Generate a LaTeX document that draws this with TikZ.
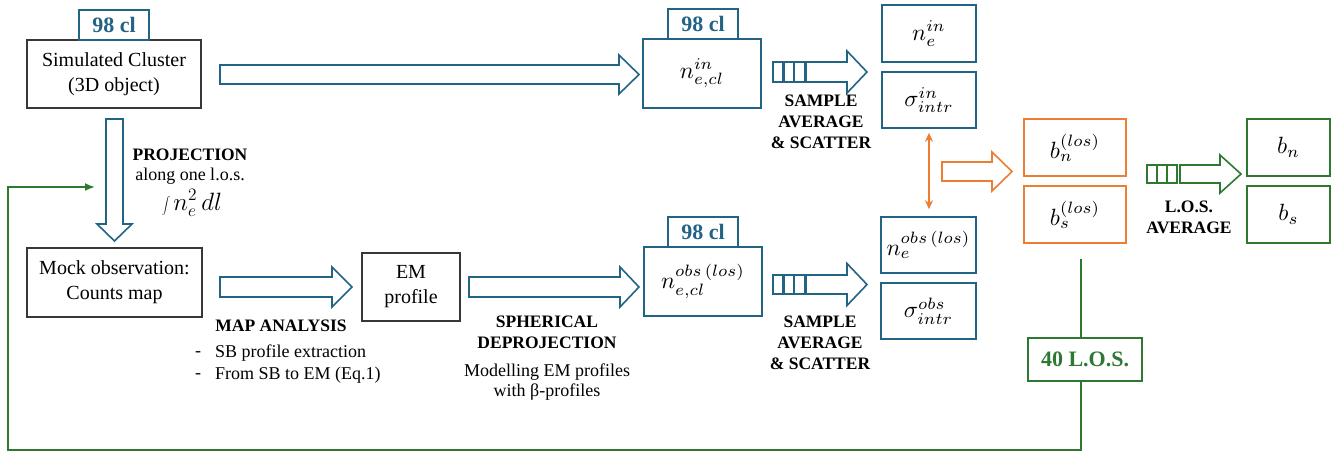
\documentclass[tikz,border=0pt]{standalone}
\usepackage{fontspec}
\setmainfont{Liberation Serif}
\usepackage{graphicx}
\usetikzlibrary{arrows.meta}
\definecolor{bluec}{RGB}{35,100,133}
\definecolor{orangec}{RGB}{237,125,49}
\definecolor{greenc}{RGB}{46,120,50}
\definecolor{grayc}{RGB}{55,55,55}
\newcommand\mth[1]{\scalebox{2.35}{$#1$}}
% right block arrow: x1, x2, yc, shaft half, head half, head length, colour
\newcommand\blkR[7]{\draw[#7,line width=1.6pt,fill=white,line join=miter]
  (#1,#3-#4) -- (#2-#6,#3-#4) -- (#2-#6,#3-#5) -- (#2,#3) -- (#2-#6,#3+#5)
  -- (#2-#6,#3+#4) -- (#1,#3+#4) -- cycle;}
% down block arrow: xc, y1, y2, shaft half, head half, head length, colour
\newcommand\blkD[7]{\draw[#7,line width=1.6pt,fill=white,line join=miter]
  (#1-#4,#2) -- (#1-#4,#3-#6) -- (#1-#5,#3-#6) -- (#1,#3) -- (#1+#5,#3-#6)
  -- (#1+#4,#3-#6) -- (#1+#4,#2) -- cycle;}
% three stripes: x start, yc, half height, stripe width, gap, colour
\newcommand\stripes[6]{\foreach \k in {0,1,2}{
  \draw[#6,line width=1.4pt] (#1+\k*#4+\k*#5,#2-#3) rectangle (#1+\k*#4+\k*#5+#4,#2+#3);}}
\tikzset{
  bbox/.style={draw=grayc,line width=1.3pt,fill=white,inner sep=0pt,align=center,
    font=\fontsize{20}{25}\selectfont},
  bluebox/.style={draw=bluec,line width=1.6pt,fill=white,inner sep=0pt,align=center},
  orbox/.style={draw=orangec,line width=1.6pt,fill=white,inner sep=0pt,align=center},
  grbox/.style={draw=greenc,line width=1.6pt,fill=white,inner sep=0pt,align=center},
  tabbox/.style={draw=bluec,line width=1.6pt,fill=white,inner sep=0pt,text=bluec,
    font=\fontsize{22}{26}\selectfont\bfseries,minimum width=70pt,minimum height=30pt},
  lbl/.style={inner sep=0pt,align=center,font=\fontsize{17.5}{21}\selectfont\bfseries},
  captxt/.style={inner sep=0pt,align=center,font=\fontsize{18}{20}\selectfont},
  gline/.style={draw=greenc,line width=1.8pt},
}
\begin{document}
\begin{tikzpicture}[x=1pt,y=-1pt]
\useasboundingbox (0,0) rectangle (1338,452);

% ---------- top row ----------
\node[bbox,minimum width=174pt,minimum height=68pt] (sim) at (114,74) {Simulated Cluster\\(3D object)};
\node[tabbox] (tab1) at (114,25) {98 cl};

\blkR{220}{639}{74.5}{9.5}{19.5}{20}{bluec}

\node[bluebox,minimum width=118pt,minimum height=69pt] (nin) at (702,73.5) {\mth{n_{e,cl}^{in}}};
\node[tabbox] (tab2) at (703,24) {98 cl};

\stripes{773}{72}{10}{10}{0.8}{bluec}
\blkR{806}{867}{72}{10}{21}{20}{bluec}
\node[lbl] (sa1) at (821,122) {SAMPLE\\AVERAGE\\\&\ SCATTER};

\node[bluebox,minimum width=94pt,minimum height=57pt] (nein) at (929,33.5) {\mth{n_{e}^{in}}};
\node[bluebox,minimum width=94pt,minimum height=56pt] (sigin) at (929,100) {\mth{\sigma_{intr}^{in}}};

% ---------- projection ----------
\blkD{114.5}{119}{241}{8.5}{17.5}{17}{bluec}
\node[lbl] (proj) at (190,155) {PROJECTION};
\node[captxt] (along) at (190,176) {along one l.o.s.};
\node[captxt] (integ) at (192,203) {\scalebox{0.85}{$\displaystyle\int$}\,\scalebox{1.45}{$n_e^2\, dl$}};

% ---------- bottom row ----------
\node[bbox,minimum width=175pt,minimum height=69pt] (mock) at (114.5,282.5) {Mock observation:\\Counts map};
\blkR{220}{352}{287}{10}{20}{20}{bluec}
\node[lbl] (map) at (281,326) {MAP ANALYSIS};
\node[captxt] (d1) at (198,354) {-};
\node[captxt,anchor=west] (b1) at (215,353) {SB profile extraction};
\node[captxt] (d2) at (198,376) {-};
\node[captxt,anchor=west] (b2) at (215,375) {From SB to EM (Eq.1)};

\node[bbox,minimum width=98pt,minimum height=68pt] (em) at (411,287) {EM\\profile};
\blkR{469}{639}{287}{10}{20}{19}{bluec}
\node[lbl] (sph) at (547,332.5) {SPHERICAL\\DEPROJECTION};
\node[captxt] (mod) at (547,382) {Modelling EM profiles\\with β-profiles};

\node[bluebox,minimum width=118pt,minimum height=69pt] (nobs) at (703,281.5) {\mth{n_{e,cl}^{obs\,(los)}}};
\node[tabbox] (tab3) at (703,232) {98 cl};

\stripes{773}{284.5}{9.5}{10}{0.8}{bluec}
\blkR{806}{867}{284.5}{9.5}{21}{20}{bluec}
\node[lbl] (sa2) at (820,343) {SAMPLE\\AVERAGE\\\&\ SCATTER};

\node[bluebox,minimum width=95pt,minimum height=56pt] (neobs) at (928.5,245) {\mth{n_{e}^{obs\,(los)}}};
\node[bluebox,minimum width=95pt,minimum height=56pt] (sigobs) at (928.5,311) {\mth{\sigma_{intr}^{obs}}};

% ---------- orange part ----------
\draw[orangec,line width=1.8pt,{Stealth[length=9pt,width=8pt]}-{Stealth[length=9pt,width=8pt]}]
  ([yshift=-4pt]sigin.south) -- ([yshift=7pt]sigin.south |- neobs.north);
\blkR{942}{1012}{171.5}{9.5}{19.5}{20}{orangec}
\node[orbox,minimum width=102pt,minimum height=57pt] (bnl) at (1075,147.5) {\mth{b_{n}^{(los)}}};
\node[orbox,minimum width=102pt,minimum height=57pt] (bsl) at (1075,214.5) {\mth{b_{s}^{(los)}}};

% ---------- green part ----------
\stripes{1147}{174}{9}{9.3}{1}{greenc}
\blkR{1180}{1241}{174}{9}{19}{21}{greenc}
\node[lbl] (losavg) at (1189,217.5) {L.O.S.\\AVERAGE};
\node[grbox,minimum width=83pt,minimum height=57pt] (bn) at (1288.5,147.5) {\mth{b_{n}}};
\node[grbox,minimum width=83pt,minimum height=57pt] (bs) at (1288.5,214.5) {\mth{b_{s}}};

\node[draw=greenc,line width=1.8pt,fill=white,minimum width=114pt,minimum height=43pt,inner sep=0pt,
  text=greenc,font=\fontsize{22}{26}\selectfont\bfseries] (los40) at (1085,359.5) {40 L.O.S.};
\coordinate (gtop) at (1081,259);
\coordinate (gbot) at (1081,450);
\coordinate (gleft) at (8,450);
\coordinate (gin) at (95,187);
\draw[gline] (gtop) -- (gtop |- los40.north);
\draw[gline,-{Latex[length=10pt,width=8pt]}] (gtop |- los40.south) -- (gbot) -- (gleft) -- (gleft |- gin) -- (gin);
\end{tikzpicture}
\end{document}
